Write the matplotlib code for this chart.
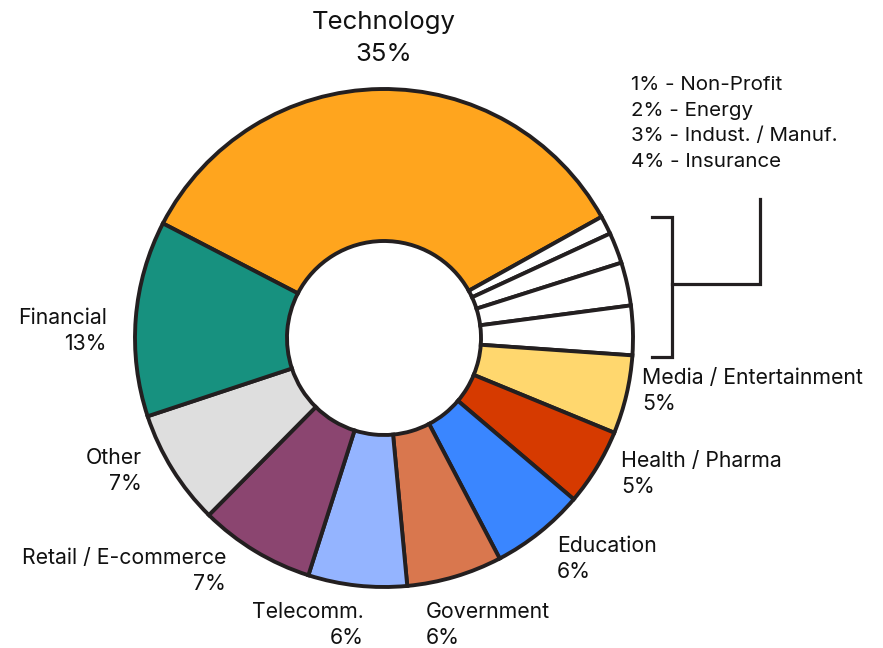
import matplotlib.pyplot as plt

plt.rcParams['font.family'] = ['Inter', 'DejaVu Sans']

sectors = ["Technology", "Non-Profit", "Energy", "Indust. / Manuf.", "Insurance",
           "Media / Entertainment", "Health / Pharma", "Education", "Government",
           "Telecomm.", "Retail / E-commerce", "Other", "Financial"]
# slice sizes (%)
shares = [34.3, 1.2, 2.0, 2.8, 3.2, 5.1, 5.0, 6.1, 6.2, 6.4, 7.5, 7.5, 12.7]
# percentages as printed on the labels
printed = [35, 1, 2, 3, 4, 5, 5, 6, 6, 6, 7, 7, 13]
colors = ["#FFA51E", "#FFFFFF", "#FFFFFF", "#FFFFFF", "#FFFFFF", "#FFD76E",
          "#D63A00", "#3A86FF", "#D9774E", "#94B4FF", "#8B4570", "#DEDEDE", "#17917F"]

# small slices grouped in the side note
small = ["Non-Profit", "Energy", "Indust. / Manuf.", "Insurance"]

# label anchors in pixel coords (x, y from top), alignment
label_pos = {
    "Technology": (384, 38.5, "center"),
    "Financial": (107, 331, "right"),
    "Other": (142, 471, "right"),
    "Retail / E-commerce": (226, 571, "right"),
    "Telecomm.": (364, 625, "right"),
    "Government": (426, 625, "left"),
    "Education": (557, 559, "left"),
    "Health / Pharma": (621, 474, "left"),
    "Media / Entertainment": (642, 391, "left"),
}

W, H = 883, 648
ink = "#231F20"

fig = plt.figure(figsize=(W / 100, H / 100), dpi=100)
ax = fig.add_axes([0, 0, 1, 1])
ax.set_xlim(0, W)
ax.set_ylim(0, H)
ax.set_aspect('equal')
ax.axis('off')

cx, cy, R = 384, H - 338, 249
ax.pie(shares, colors=colors, startangle=152.6, counterclock=False,
       center=(cx, cy), radius=R,
       wedgeprops=dict(width=R - 97, edgecolor=ink, linewidth=2.8))
ax.set_xlim(0, W)
ax.set_ylim(0, H)

for name, val in zip(sectors, printed):
    if name in small:
        continue
    x, y, ha = label_pos[name]
    if name == "Technology":
        ax.text(x, H - y, f"{name}\n{val}%", ha=ha, va="center", fontsize=18.5,
                color="#111111", linespacing=1.47)
    else:
        ax.text(x, H - y, f"{name}\n{val}%", ha=ha, va="center", fontsize=15.3,
                color="#111111", linespacing=1.38)

note = "\n".join(f"{v}% - {n}" for n, v in zip(sectors, printed) if n in small)
ax.text(631, H - 123.5, note, ha="left", va="center", fontsize=14.8,
        color="#111111", linespacing=1.56)

# bracket around the small slices
bx, top, bot = 672, H - 217, H - 357
ax.plot([652, bx, bx, 652], [top, top, bot, bot], color=ink, lw=2.3,
        solid_joinstyle='miter')
mid = H - 284
ax.plot([bx, 760, 760], [mid, mid, H - 199], color=ink, lw=2.3,
        solid_joinstyle='miter')

fig.savefig("out.png", dpi=100)
